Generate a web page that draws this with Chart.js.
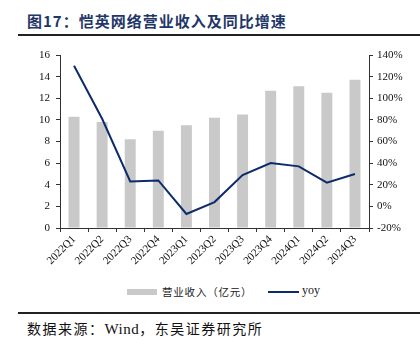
<!DOCTYPE html>
<html>
<head>
<meta charset="utf-8">
<script src="https://cdn.jsdelivr.net/npm/chart.js"></script>
<style>
  body { margin: 0; width: 420px; height: 352px; background: #fff; position: relative; overflow: hidden; }
  #titulo { position: absolute; left: 27px; top: 10px; font: bold 15px 'Noto Sans CJK SC', sans-serif; color: #1f3767; letter-spacing: 1px; white-space: nowrap; }
  .linha { position: absolute; left: 18px; width: 402px; height: 1.5px; background: #222; }
  #caixa { position: absolute; left: 0; top: 0; width: 420px; height: 280px; }
  #legenda { position: absolute; top: 284px; left: 0; width: 420px; height: 16px; font: 10.5px 'Noto Sans CJK SC', sans-serif; color: #222; }
  #fonte { position: absolute; left: 27px; top: 318px; font: 14px 'Noto Sans CJK SC', sans-serif; color: #111; letter-spacing: 1.5px; white-space: nowrap; }
</style>
</head>
<body>
<div id="titulo">图17：恺英网络营业收入及同比增速</div>
<div class="linha" style="top:34px"></div>
<div id="caixa"><canvas id="graficoReceita"></canvas></div>
<div id="legenda">
  <span style="position:absolute;left:127px;top:5px;width:30px;height:6px;background:#c9c9c9"></span>
  <span style="position:absolute;left:162px;top:0px;letter-spacing:0.8px">营业收入（亿元）</span>
  <span style="position:absolute;left:268px;top:7px;width:31px;height:2px;background:#0d2a6b"></span>
  <span style="position:absolute;left:302px;top:-1px;font-family:'Liberation Serif',serif;font-size:12px">yoy</span>
</div>
<div class="linha" style="top:312px"></div>
<div id="fonte">数据来源：<span style="font-family:'Liberation Serif',serif;font-size:15px;letter-spacing:0.5px">Wind</span>，东吴证券研究所</div>
<script>
// trimestres (eixo X)
var trimestres = ['2022Q1', '2022Q2', '2022Q3', '2022Q4', '2023Q1', '2023Q2', '2023Q3', '2023Q4', '2024Q1', '2024Q2', '2024Q3'];
// receita em 亿元
var receita = [10.3, 9.8, 8.2, 9.0, 9.5, 10.2, 10.5, 12.7, 13.1, 12.5, 13.7];
// crescimento anual em %
var yoy = [130, 81, 23, 24, -7, 4, 29, 40, 37, 22, 30];

Chart.defaults.font.family = "'Liberation Serif', 'Times New Roman', serif";
Chart.defaults.font.size = 11;
Chart.defaults.color = '#111';

var corEixo = '#333';

var ctx = document.getElementById('graficoReceita').getContext('2d');
chart = new Chart(ctx, {
  type: 'bar',
  data: {
    labels: trimestres,
    datasets: [
      {
        label: '营业收入（亿元）',
        data: receita,
        backgroundColor: '#c9c9c9',
        barPercentage: 0.39,
        categoryPercentage: 1,
        yAxisID: 'y',
        order: 2
      },
      {
        label: 'yoy',
        type: 'line',
        data: yoy,
        borderColor: '#0d2a6b',
        borderWidth: 2,
        pointRadius: 0,
        tension: 0,
        yAxisID: 'y1',
        order: 1
      }
    ]
  },
  options: {
    responsive: true,
    maintainAspectRatio: false,
    animation: false,
    layout: { padding: { top: 55, left: 0, right: 0, bottom: 0 } },
    plugins: {
      legend: { display: false },
      tooltip: { enabled: false }
    },
    scales: {
      x: {
        grid: { offset: true, drawOnChartArea: false, tickLength: 4, color: corEixo },
        border: { color: corEixo },
        ticks: { autoSkip: false, maxRotation: 45, minRotation: 45, padding: 1 },
        afterFit: function (scale) { scale.height = 52; }
      },
      y: {
        position: 'left',
        min: 0,
        max: 16,
        ticks: { stepSize: 2, padding: 6 },
        grid: { drawOnChartArea: false, tickLength: 4, color: corEixo },
        border: { color: corEixo },
        afterFit: function (scale) { scale.width = 60; }
      },
      y1: {
        position: 'right',
        min: -20,
        max: 140,
        ticks: {
          stepSize: 20,
          padding: 4,
          callback: function (v) { return v + '%'; }
        },
        grid: { drawOnChartArea: false, tickLength: 4, color: corEixo },
        border: { color: corEixo },
        afterFit: function (scale) { scale.width = 51; }
      }
    }
  }
});
</script>
</body>
</html>
